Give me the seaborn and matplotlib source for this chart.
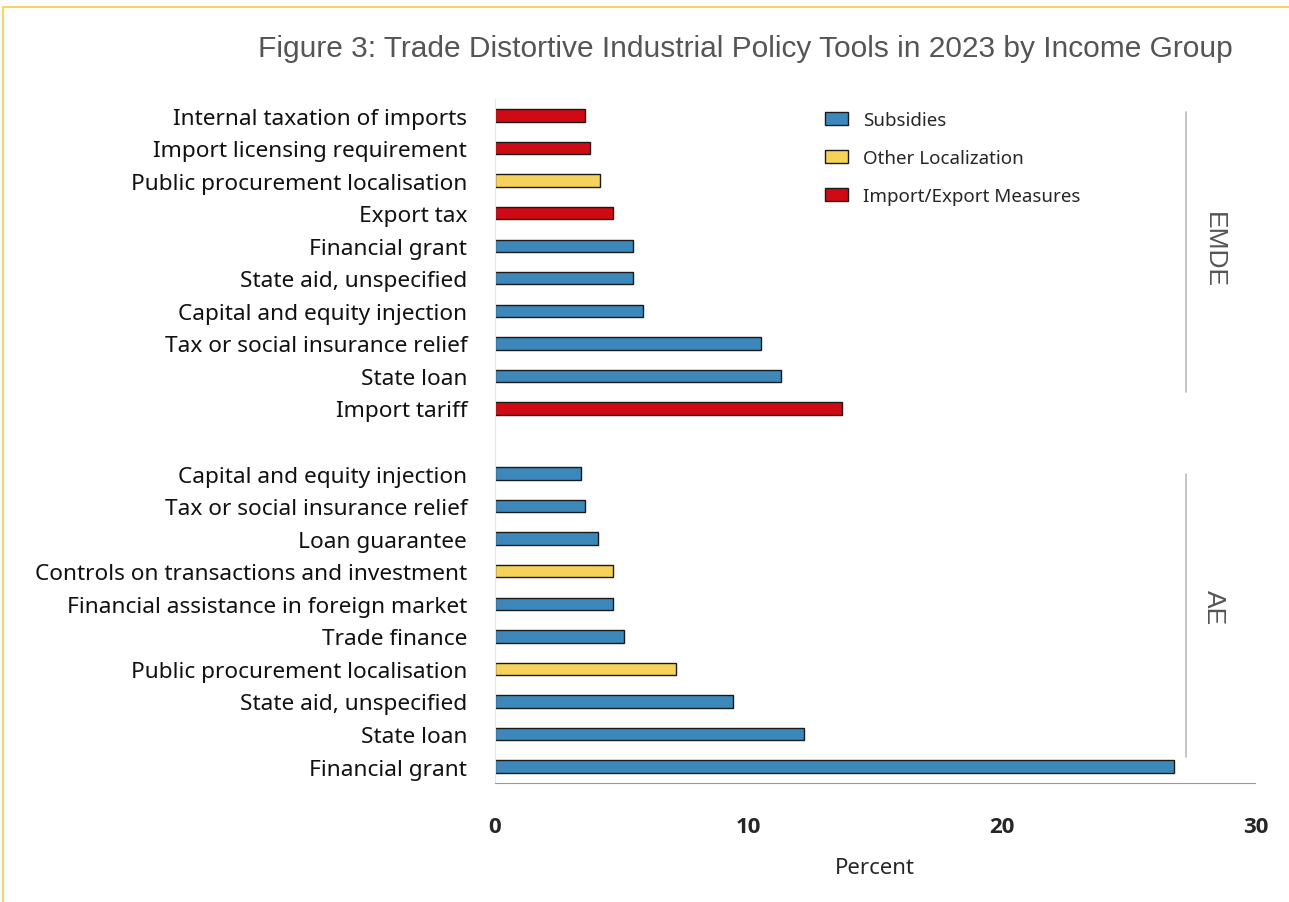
import pandas as pd
import numpy as np
import matplotlib.pyplot as plt
import matplotlib.patches as mpatches
import seaborn as sns

# Data (percent)
emde_tools = ["Internal taxation of imports", "Import licensing requirement",
              "Public procurement localisation", "Export tax", "Financial grant",
              "State aid, unspecified", "Capital and equity injection",
              "Tax or social insurance relief", "State loan", "Import tariff"]
emde_values = [3.55, 3.75, 4.15, 4.65, 5.45, 5.45, 5.85, 10.5, 11.3, 13.7]
emde_types = ["Import/Export Measures", "Import/Export Measures", "Other Localization",
              "Import/Export Measures", "Subsidies", "Subsidies", "Subsidies",
              "Subsidies", "Subsidies", "Import/Export Measures"]

ae_tools = ["Capital and equity injection", "Tax or social insurance relief",
            "Loan guarantee", "Controls on transactions and investment",
            "Financial assistance in foreign market", "Trade finance",
            "Public procurement localisation", "State aid, unspecified",
            "State loan", "Financial grant"]
ae_values = [3.4, 3.55, 4.05, 4.65, 4.65, 5.1, 7.15, 9.4, 12.2, 26.8]
ae_types = ["Subsidies", "Subsidies", "Subsidies", "Other Localization", "Subsidies",
            "Subsidies", "Other Localization", "Subsidies", "Subsidies", "Subsidies"]

type_order = ["Subsidies", "Other Localization", "Import/Export Measures"]
type_colors = ["#3D88BA", "#F7D25A", "#CF0A14"]

df = pd.DataFrame({
    "key": ["EMDE|" + t for t in emde_tools] + ["AE|" + t for t in ae_tools],
    "tool": emde_tools + ae_tools,
    "value": emde_values + ae_values,
    "type": emde_types + ae_types,
})
order = ["EMDE|" + t for t in emde_tools] + ["gap"] + ["AE|" + t for t in ae_tools]
ylabels = emde_tools + [""] + ae_tools

sns.set_style("white")
plt.rcParams["font.family"] = ["Noto Sans", "DejaVu Sans"]

fig = plt.figure(figsize=(12.89, 9.03), dpi=100)
ax = fig.add_axes([0.384, 0.132, 0.590, 0.757])

sns.barplot(data=df, x="value", y="key", hue="type", order=order,
            hue_order=type_order, palette=type_colors, dodge=False,
            saturation=1, width=0.38, edgecolor="#1a1a1a", linewidth=1.0, ax=ax)

ax.set_xlim(0, 30)
ax.set_ylim(20.5, -0.5)
ax.set_xticks([0, 10, 20, 30])
ax.set_xticklabels(["0", "10", "20", "30"], fontsize=16, fontweight="bold",
                   family="Open Sans")
ax.set_yticks(range(len(ylabels)))
ax.set_yticklabels(ylabels, fontsize=16.3, color="#111111")
ax.tick_params(axis="y", length=0, pad=20)
ax.tick_params(axis="x", direction="in", length=4, color="#777777", pad=24)
ax.set_xlabel("Percent", fontsize=16, labelpad=14)
ax.set_ylabel("")

for s in ["top", "right"]:
    ax.spines[s].set_visible(False)
ax.spines["left"].set_color("#e6e6e6")
ax.spines["bottom"].set_color("#9a9a9a")

# group brackets on the right
trans = ax.get_yaxis_transform()
for name, y0, y1, ylab in [("EMDE", -0.1, 8.5, 4.1), ("AE", 11.0, 19.7, 15.1)]:
    ax.plot([0.908, 0.908], [y0, y1], transform=trans, color="#bbbbbb",
            lw=1.2, clip_on=False)
    ax.text(0.945, ylab, name, transform=trans, rotation=270,
            ha="center", va="center", fontsize=19, color="#555555",
            family="Liberation Sans")

# legend
handles = [mpatches.Patch(facecolor=c, edgecolor="#1a1a1a", label=l)
           for c, l in zip(type_colors, type_order)]
ax.legend(handles=handles, loc="upper left", bbox_to_anchor=(0.412, 1.007),
          frameon=False, fontsize=13.5, labelspacing=1.05, handlelength=1.2,
          handleheight=0.7, handletextpad=0.8)

fig.text(0.578, 0.946, "Figure 3: Trade Distortive Industrial Policy Tools in 2023 by Income Group",
         ha="center", va="center", fontsize=21.5, color="#555555",
         family="Liberation Sans")

# thin yellow frame at top and left
fig.add_artist(plt.Line2D([0.0025, 0.0025], [0, 0.991], color="#F3D36A", lw=1.5,
                          transform=fig.transFigure))
fig.add_artist(plt.Line2D([0.0025, 1], [0.991, 0.991], color="#F3D36A", lw=1.5,
                          transform=fig.transFigure))

fig.savefig("out.png", dpi=100)
